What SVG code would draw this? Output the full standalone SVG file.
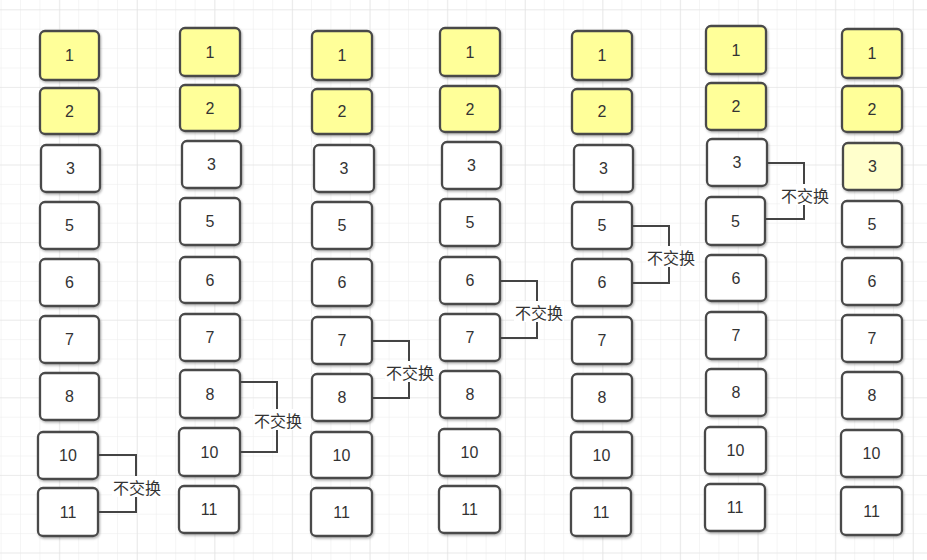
<svg xmlns="http://www.w3.org/2000/svg" width="927" height="560" viewBox="0 0 927 560">
<defs>
<pattern id="minor" x="0.6" y="9.3" width="19.4" height="19.4" patternUnits="userSpaceOnUse">
<path d="M0 0H19.4M0 0V19.4" fill="none" stroke="#ececec" stroke-width="1"/>
</pattern>
<pattern id="major" x="59.3" y="9.3" width="77.6" height="77.6" patternUnits="userSpaceOnUse">
<path d="M0 0H77.6M0 0V77.6" fill="none" stroke="#e2e2e2" stroke-width="1.2"/>
</pattern>
<filter id="sh" x="-20%" y="-20%" width="140%" height="140%">
<feDropShadow dx="1" dy="1.5" stdDeviation="1.2" flood-color="#000" flood-opacity="0.3"/>
</filter>
</defs>
<style>
.box{fill:#fff;stroke:#4a4a4a;stroke-width:2.3;filter:url(#sh)}
.y{fill:#ffff99}
.ly{fill:#ffffcc}
.t{font-family:"Liberation Sans","Noto Sans CJK SC",sans-serif;font-size:16px;fill:#333;text-anchor:middle;dominant-baseline:central}
.c{fill:none;stroke:#444;stroke-width:2}
.lb{fill:#fff}
.l{font-family:"Noto Sans CJK SC",sans-serif;font-size:16px;fill:#333;text-anchor:middle;dominant-baseline:central}
</style>
<rect width="927" height="560" fill="#fff"/>
<rect width="927" height="560" fill="url(#minor)"/>
<rect width="927" height="560" fill="url(#major)"/>

<!-- Column 1 -->
<g id="c1n1"><rect class="box y" x="40" y="31" width="59" height="49" rx="5"/><text class="t" x="69.5" y="55.5">1</text></g>
<g id="c1n2"><rect class="box y" x="40" y="88" width="59" height="46" rx="5"/><text class="t" x="69.5" y="111">2</text></g>
<g id="c1n3"><rect class="box" x="41" y="145" width="59" height="47" rx="5"/><text class="t" x="70.5" y="168.5">3</text></g>
<g id="c1n5"><rect class="box" x="40" y="202" width="59" height="47" rx="5"/><text class="t" x="69.5" y="225.5">5</text></g>
<g id="c1n6"><rect class="box" x="40" y="259" width="59" height="47" rx="5"/><text class="t" x="69.5" y="282.5">6</text></g>
<g id="c1n7"><rect class="box" x="40" y="316" width="59" height="47" rx="5"/><text class="t" x="69.5" y="339.5">7</text></g>
<g id="c1n8"><rect class="box" x="40" y="373" width="59" height="47" rx="5"/><text class="t" x="69.5" y="396.5">8</text></g>
<g id="c1n10"><rect class="box" x="38" y="432" width="60" height="47" rx="5"/><text class="t" x="68" y="455.5">10</text></g>
<g id="c1n11"><rect class="box" x="38" y="488" width="60" height="48" rx="5"/><text class="t" x="68" y="512">11</text></g>

<!-- Column 2 -->
<g id="c2n1"><rect class="box y" x="180" y="28" width="60" height="48" rx="5"/><text class="t" x="210" y="52">1</text></g>
<g id="c2n2"><rect class="box y" x="180" y="85" width="60" height="46" rx="5"/><text class="t" x="210" y="108">2</text></g>
<g id="c2n3"><rect class="box" x="182" y="141" width="59" height="47" rx="5"/><text class="t" x="211.5" y="164.5">3</text></g>
<g id="c2n5"><rect class="box" x="180" y="198" width="60" height="47" rx="5"/><text class="t" x="210" y="221.5">5</text></g>
<g id="c2n6"><rect class="box" x="180" y="257" width="60" height="46" rx="5"/><text class="t" x="210" y="280">6</text></g>
<g id="c2n7"><rect class="box" x="180" y="314" width="60" height="47" rx="5"/><text class="t" x="210" y="337.5">7</text></g>
<g id="c2n8"><rect class="box" x="180" y="370" width="60" height="48" rx="5"/><text class="t" x="210" y="394">8</text></g>
<g id="c2n10"><rect class="box" x="179" y="428" width="61" height="48" rx="5"/><text class="t" x="209.5" y="452">10</text></g>
<g id="c2n11"><rect class="box" x="179" y="486" width="60" height="47" rx="5"/><text class="t" x="209" y="509.5">11</text></g>

<!-- Column 3 -->
<g id="c3n1"><rect class="box y" x="312" y="31" width="60" height="49" rx="5"/><text class="t" x="342" y="55.5">1</text></g>
<g id="c3n2"><rect class="box y" x="312" y="89" width="60" height="45" rx="5"/><text class="t" x="342" y="111.5">2</text></g>
<g id="c3n3"><rect class="box" x="314" y="145" width="60" height="47" rx="5"/><text class="t" x="344" y="168.5">3</text></g>
<g id="c3n5"><rect class="box" x="312" y="202" width="60" height="47" rx="5"/><text class="t" x="342" y="225.5">5</text></g>
<g id="c3n6"><rect class="box" x="312" y="259" width="60" height="47" rx="5"/><text class="t" x="342" y="282.5">6</text></g>
<g id="c3n7"><rect class="box" x="312" y="317" width="60" height="47" rx="5"/><text class="t" x="342" y="340.5">7</text></g>
<g id="c3n8"><rect class="box" x="312" y="374" width="60" height="47" rx="5"/><text class="t" x="342" y="397.5">8</text></g>
<g id="c3n10"><rect class="box" x="311" y="432" width="61" height="46" rx="5"/><text class="t" x="341.5" y="455">10</text></g>
<g id="c3n11"><rect class="box" x="311" y="488" width="61" height="48" rx="5"/><text class="t" x="341.5" y="512">11</text></g>

<!-- Column 4 -->
<g id="c4n1"><rect class="box y" x="440" y="28" width="60" height="48" rx="5"/><text class="t" x="470" y="52">1</text></g>
<g id="c4n2"><rect class="box y" x="440" y="86" width="60" height="46" rx="5"/><text class="t" x="470" y="109">2</text></g>
<g id="c4n3"><rect class="box" x="442" y="142" width="59" height="47" rx="5"/><text class="t" x="471.5" y="165.5">3</text></g>
<g id="c4n5"><rect class="box" x="440" y="199" width="60" height="47" rx="5"/><text class="t" x="470" y="222.5">5</text></g>
<g id="c4n6"><rect class="box" x="440" y="257" width="60" height="47" rx="5"/><text class="t" x="470" y="280.5">6</text></g>
<g id="c4n7"><rect class="box" x="440" y="314" width="60" height="47" rx="5"/><text class="t" x="470" y="337.5">7</text></g>
<g id="c4n8"><rect class="box" x="440" y="371" width="60" height="47" rx="5"/><text class="t" x="470" y="394.5">8</text></g>
<g id="c4n10"><rect class="box" x="439" y="429" width="61" height="47" rx="5"/><text class="t" x="469.5" y="452.5">10</text></g>
<g id="c4n11"><rect class="box" x="439" y="486" width="61" height="47" rx="5"/><text class="t" x="469.5" y="509.5">11</text></g>

<!-- Column 5 -->
<g id="c5n1"><rect class="box y" x="572" y="31" width="60" height="49" rx="5"/><text class="t" x="602" y="55.5">1</text></g>
<g id="c5n2"><rect class="box y" x="572" y="89" width="60" height="45" rx="5"/><text class="t" x="602" y="111.5">2</text></g>
<g id="c5n3"><rect class="box" x="574" y="145" width="59" height="47" rx="5"/><text class="t" x="603.5" y="168.5">3</text></g>
<g id="c5n5"><rect class="box" x="572" y="202" width="60" height="47" rx="5"/><text class="t" x="602" y="225.5">5</text></g>
<g id="c5n6"><rect class="box" x="572" y="259" width="60" height="47" rx="5"/><text class="t" x="602" y="282.5">6</text></g>
<g id="c5n7"><rect class="box" x="572" y="317" width="60" height="47" rx="5"/><text class="t" x="602" y="340.5">7</text></g>
<g id="c5n8"><rect class="box" x="572" y="374" width="60" height="47" rx="5"/><text class="t" x="602" y="397.5">8</text></g>
<g id="c5n10"><rect class="box" x="571" y="432" width="61" height="46" rx="5"/><text class="t" x="601.5" y="455">10</text></g>
<g id="c5n11"><rect class="box" x="571" y="488" width="60" height="48" rx="5"/><text class="t" x="601" y="512">11</text></g>

<!-- Column 6 -->
<g id="c6n1"><rect class="box y" x="706" y="26" width="60" height="48" rx="5"/><text class="t" x="736" y="50">1</text></g>
<g id="c6n2"><rect class="box y" x="706" y="83" width="60" height="47" rx="5"/><text class="t" x="736" y="106.5">2</text></g>
<g id="c6n3"><rect class="box" x="707" y="139" width="60" height="47" rx="5"/><text class="t" x="737" y="162.5">3</text></g>
<g id="c6n5"><rect class="box" x="706" y="197" width="59" height="48" rx="5"/><text class="t" x="735.5" y="221">5</text></g>
<g id="c6n6"><rect class="box" x="706" y="255" width="60" height="46" rx="5"/><text class="t" x="736" y="278">6</text></g>
<g id="c6n7"><rect class="box" x="706" y="312" width="60" height="47" rx="5"/><text class="t" x="736" y="335.5">7</text></g>
<g id="c6n8"><rect class="box" x="706" y="369" width="60" height="47" rx="5"/><text class="t" x="736" y="392.5">8</text></g>
<g id="c6n10"><rect class="box" x="705" y="427" width="61" height="47" rx="5"/><text class="t" x="735.5" y="450.5">10</text></g>
<g id="c6n11"><rect class="box" x="705" y="484" width="60" height="47" rx="5"/><text class="t" x="735" y="507.5">11</text></g>

<!-- Column 7 -->
<g id="c7n1"><rect class="box y" x="842" y="29" width="60" height="49" rx="5"/><text class="t" x="872" y="53.5">1</text></g>
<g id="c7n2"><rect class="box y" x="842" y="86" width="60" height="46" rx="5"/><text class="t" x="872" y="109">2</text></g>
<g id="c7n3"><rect class="box ly" x="843" y="143" width="59" height="47" rx="5"/><text class="t" x="872.5" y="166.5">3</text></g>
<g id="c7n5"><rect class="box" x="842" y="201" width="60" height="46" rx="5"/><text class="t" x="872" y="224">5</text></g>
<g id="c7n6"><rect class="box" x="842" y="258" width="60" height="47" rx="5"/><text class="t" x="872" y="281.5">6</text></g>
<g id="c7n7"><rect class="box" x="842" y="315" width="60" height="47" rx="5"/><text class="t" x="872" y="338.5">7</text></g>
<g id="c7n8"><rect class="box" x="842" y="372" width="60" height="47" rx="5"/><text class="t" x="872" y="395.5">8</text></g>
<g id="c7n10"><rect class="box" x="841" y="430" width="61" height="47" rx="5"/><text class="t" x="871.5" y="453.5">10</text></g>
<g id="c7n11"><rect class="box" x="841" y="487" width="61" height="48" rx="5"/><text class="t" x="871.5" y="511">11</text></g>

<g id="connectors">
<path class="c" d="M98 455H136V512H98"/>
<rect class="lb" x="112" y="476" width="50" height="21"/>
<text class="l" x="137" y="487">不交换</text>

<path class="c" d="M240 382H277V452H240"/>
<rect class="lb" x="253" y="409" width="50" height="21"/>
<text class="l" x="278" y="420">不交换</text>

<path class="c" d="M372 341H409V398H372"/>
<rect class="lb" x="385" y="361" width="50" height="21"/>
<text class="l" x="410" y="372">不交换</text>

<path class="c" d="M500 281H537V338H500"/>
<rect class="lb" x="514" y="301" width="50" height="21"/>
<text class="l" x="539" y="312">不交换</text>

<path class="c" d="M632 226H669V283H632"/>
<rect class="lb" x="646" y="246" width="50" height="21"/>
<text class="l" x="671" y="257">不交换</text>

<path class="c" d="M767 163H804V219H765"/>
<rect class="lb" x="780" y="184" width="50" height="21"/>
<text class="l" x="805" y="195">不交换</text>
</g>
</svg>
